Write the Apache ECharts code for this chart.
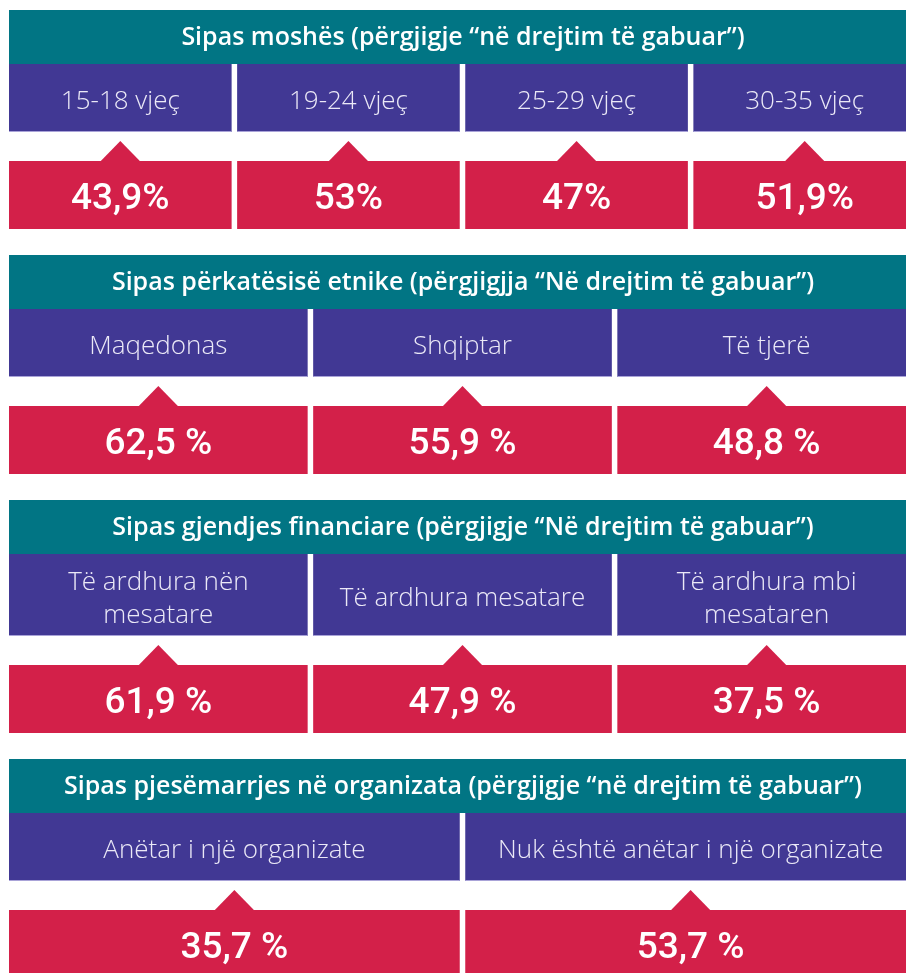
<!DOCTYPE html>
<html>
<head>
<meta charset="utf-8">
<script src="https://cdn.jsdelivr.net/npm/echarts@6/dist/echarts.min.js"></script>
<style>
    html, body { margin: 0; padding: 0; background: #fff; }
    #main { width: 906px; height: 973px; }
</style>
</head>
<body>
<div id="main"></div>
<script>
    // titujt e seksioneve
    var titles = [
        'Sipas moshës (përgjigje “në drejtim të gabuar”)',
        'Sipas përkatësisë etnike (përgjigjja “Në drejtim të gabuar”)',
        'Sipas gjendjes financiare (përgjigje “Në drejtim të gabuar”)',
        'Sipas pjesëmarrjes në organizata (përgjigje “në drejtim të gabuar”)'
    ];

    var ageCats = ['15-18 vjeç', '19-24 vjeç', '25-29 vjeç', '30-35 vjeç'];
    var ageVals = ['43,9%', '53%', '47%', '51,9%'];

    var ethCats = ['Maqedonas', 'Shqiptar', 'Të tjerë'];
    var ethVals = ['62,5 %', '55,9 %', '48,8 %'];

    var finCats = ['Të ardhura nën\nmesatare', 'Të ardhura mesatare', 'Të ardhura mbi\nmesataren'];
    var finVals = ['61,9 %', '47,9 %', '37,5 %'];

    var orgCats = ['Anëtar i një organizate', 'Nuk është anëtar i një organizate'];
    var orgVals = ['35,7 %', '53,7 %'];

    var sections = [
        {title: titles[0], cats: ageCats, vals: ageVals, top: 10, labelH: 68},
        {title: titles[1], cats: ethCats, vals: ethVals, top: 255, labelH: 68},
        {title: titles[2], cats: finCats, vals: finVals, top: 500, labelH: 82},
        {title: titles[3], cats: orgCats, vals: orgVals, top: 759, labelH: 68}
    ];

    var TEAL = '#017584', PURPLE = '#413894', RED = '#d32049';
    var left = 9, right = 916, gap = 5.5;
    var headH = 54, triGap = 9, triH = 20, triW = 20, valH = 68;

    var elements = [];

    sections.forEach(function (s) {
        var y = s.top;
        elements.push({
            type: 'rect', shape: {x: left, y: y, width: right - left, height: headH},
            style: {fill: TEAL}
        });
        elements.push({
            type: 'text', x: 463, y: y + headH / 2 + 1,
            style: {
                text: s.title, fill: '#fff', font: '600 25px "Open Sans"',
                align: 'center', verticalAlign: 'middle'
            }
        });

        var n = s.cats.length;
        var w = (right - left - gap * (n - 1)) / n;
        var yl = y + headH, yt = yl + s.labelH + triGap, yv = yt + triH;

        s.cats.forEach(function (c, i) {
            var x = left + i * (w + gap), cx = x + w / 2;
            elements.push({
                type: 'rect', shape: {x: x, y: yl, width: w, height: s.labelH},
                style: {fill: PURPLE}
            });
            elements.push({
                type: 'line', shape: {x1: x, y1: yl + s.labelH - 0.5, x2: x + w, y2: yl + s.labelH - 0.5},
                style: {stroke: '#a9a3d8', lineWidth: 1}
            });
            elements.push({
                type: 'text', x: cx, y: yl + s.labelH / 2 + 4,
                style: {
                    text: c, fill: '#ebe9f7', font: '300 26px "Open Sans"', lineHeight: 33,
                    align: 'center', verticalAlign: 'middle'
                }
            });
            elements.push({
                type: 'polygon',
                shape: {points: [[cx - triW, yv + 0.5], [cx, yt], [cx + triW, yv + 0.5]]},
                style: {fill: RED}
            });
            elements.push({
                type: 'rect', shape: {x: x, y: yv, width: w, height: valH},
                style: {fill: RED}
            });
            elements.push({
                type: 'text', x: cx, y: yv + valH / 2 + 5,
                style: {
                    text: s.vals[i], fill: '#fff', font: '500 37px Roboto',
                    align: 'center', verticalAlign: 'middle'
                }
            });
        });
    });

    var chart = echarts.init(document.getElementById('main'));
    chart.setOption({
        backgroundColor: '#fff',
        animation: false,
        graphic: {elements: elements}
    });
</script>
</body>
</html>
